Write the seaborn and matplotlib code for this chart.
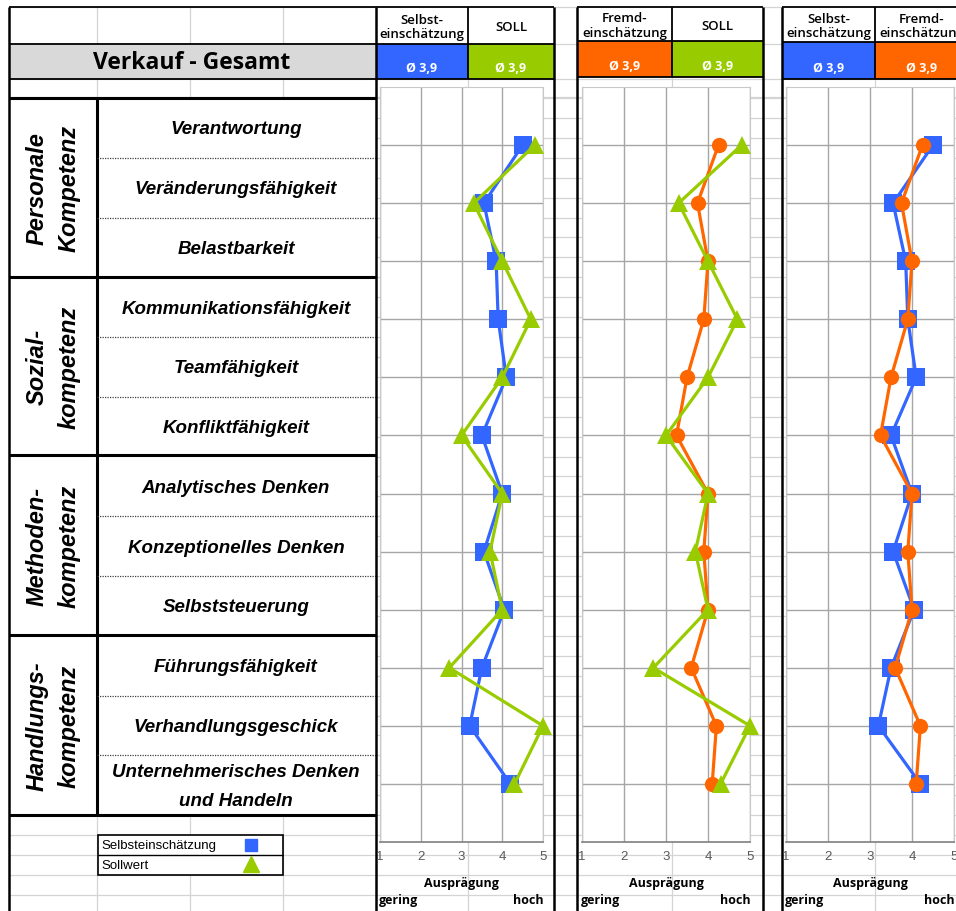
import numpy as np
import matplotlib
matplotlib.use("Agg")
import matplotlib.pyplot as plt
import seaborn as sns
from matplotlib.patches import Rectangle

# Daten
kategorien = ["Verantwortung", "Veränderungsfähigkeit", "Belastbarkeit",
              "Kommunikationsfähigkeit", "Teamfähigkeit", "Konfliktfähigkeit",
              "Analytisches Denken", "Konzeptionelles Denken", "Selbststeuerung",
              "Führungsfähigkeit", "Verhandlungsgeschick",
              "Unternehmerisches Denken\nund Handeln"]
gruppen = ["Personale\nKompetenz", "Sozial-\nkompetenz", "Methoden-\nkompetenz", "Handlungs-\nkompetenz"]
selbst = [4.5, 3.55, 3.85, 3.9, 4.1, 3.5, 4.0, 3.55, 4.05, 3.5, 3.2, 4.2]
fremd = [4.25, 3.75, 4.0, 3.9, 3.5, 3.25, 4.0, 3.9, 4.0, 3.6, 4.2, 4.1]
soll = [4.8, 3.3, 4.0, 4.7, 4.0, 3.0, 4.0, 3.7, 4.0, 2.7, 5.0, 4.3]
schnitt = {"Selbst": "Ø 3,9", "Fremd": "Ø 3,9", "SOLL": "Ø 3,9"}
x_ticks = [1, 2, 3, 4, 5]

BLAU = "#3366FF"
GRUEN = "#99CC00"
ORANGE = "#FF6600"
HELLGRAU = "#D4D4D4"

W, H = 956, 912
sns.set_style("white")
plt.rcParams["font.family"] = ["Open Sans", "DejaVu Sans"]
plt.rcParams["text.color"] = "black"
KURSIV = ["Liberation Sans", "DejaVu Sans"]

fig = plt.figure(figsize=(W / 100, H / 100), dpi=100)
bg = fig.add_axes([0, 0, 1, 1])
bg.set_xlim(0, W)
bg.set_ylim(H, 0)
bg.axis("off")


def linie(x0, y0, x1, y1, lw=1.0, c="black", ls="-", z=3):
    bg.plot([x0, x1], [y0, y1], color=c, lw=lw, ls=ls, solid_capstyle="butt", zorder=z)


def kasten(x0, y0, x1, y1, farbe, z=1):
    bg.add_patch(Rectangle((x0, y0), x1 - x0, y1 - y0, facecolor=farbe, edgecolor="none", zorder=z))


# Tabellenraster im Hintergrund
zeilen = [8, 45, 80, 98] + list(99 + 19.92 * np.arange(0, 41))
for y in zeilen:
    if y <= H:
        linie(9, y, W, y, lw=0.9, c=HELLGRAU, z=0)
for x in [97, 190, 283, 468, 672, 875]:
    linie(x, 8, x, H, lw=0.9, c=HELLGRAU, z=0)

# linke Tabelle
kasten(9, 45, 376, 80, "#D9D9D9")
kasten(10, 99, 376, 816, "white")
bg.text(192, 63, "Verkauf - Gesamt", ha="center", va="center", fontsize=16.5,
        fontweight="bold")

grenzen = [99, 278, 456, 636, 816]
for y in [8, 45, 80]:
    linie(9, y, 376, y, lw=1.3)
for y in grenzen:
    linie(9, y, 376, y, lw=2.2)
linie(9, 8, 9, H, lw=1.8)
linie(97, 99, 97, 816, lw=2.2)

zh = (816 - 99) / 12
for i, name in enumerate(kategorien):
    yc = 99 + (i + 0.5) * zh
    bg.text(236, yc + 1, name, ha="center", va="center", fontsize=13.5,
            fontweight="bold", fontstyle="italic", linespacing=1.9, family=KURSIV)
    if i % 3 != 2:
        linie(97, 99 + (i + 1) * zh, 376, 99 + (i + 1) * zh, lw=0.9, c="#404040", ls=(0, (1, 1)))

for g, name in enumerate(gruppen):
    yc = (grenzen[g] + grenzen[g + 1]) / 2
    bg.text(53, yc, name, ha="center", va="center", rotation=90, fontsize=17,
            fontweight="bold", fontstyle="italic", linespacing=1.5, family=KURSIV)

# Legende
kasten(98, 836, 283, 876, "white", z=2)
bg.add_patch(Rectangle((98, 836), 185, 40, facecolor="none", edgecolor="black", lw=1.2, zorder=3))
linie(98, 856, 283, 856, lw=1.0)
bg.text(101, 846, "Selbsteinschätzung", ha="left", va="center", fontsize=9.5, family="Liberation Sans")
bg.text(101, 866, "Sollwert", ha="left", va="center", fontsize=9.5, family="Liberation Sans")
bg.plot([251], [846], marker="s", ms=9, color=BLAU, zorder=4, ls="none")
bg.plot([251], [865], marker="^", ms=12, color=GRUEN, zorder=4, ls="none")

# Panels: Rahmen, Kopfzellen, Diagramme
panels = [
    dict(x0=376, xm=468, x1=554, y1=45, y2=80, ax=(380, 543),
         koepfe=[("Selbst-\neinschätzung", BLAU, schnitt["Selbst"]), ("SOLL", GRUEN, schnitt["SOLL"])],
         serien=[(selbst, BLAU, "s", 13), (soll, GRUEN, "^", 13)]),
    dict(x0=577, xm=672, x1=763, y1=42, y2=78, ax=(582, 750),
         koepfe=[("Fremd-\neinschätzung", ORANGE, schnitt["Fremd"]), ("SOLL", GRUEN, schnitt["SOLL"])],
         serien=[(fremd, ORANGE, "o", 11), (soll, GRUEN, "^", 13)]),
    dict(x0=782, xm=875, x1=968, y1=43, y2=80, ax=(786, 954),
         koepfe=[("Selbst-\neinschätzung", BLAU, schnitt["Selbst"]), ("Fremd-\neinschätzung", ORANGE, schnitt["Fremd"])],
         serien=[(selbst, BLAU, "s", 13), (fremd, ORANGE, "o", 11)]),
]

pos = np.arange(1, len(kategorien) + 1)
AX_TOP, AX_BOT = 88, 843

for p in panels:
    x0, xm, x1, y1, y2 = p["x0"], p["xm"], p["x1"], p["y1"], p["y2"]
    kasten(x0, 8, x1, y1, "white")
    for (txt, farbe, wert), (a, b) in zip(p["koepfe"], [(x0, xm), (xm, x1)]):
        kasten(a, y1, b, y2, farbe)
        bg.text((a + b) / 2, (8 + y1) / 2 + 1, txt, ha="center", va="center", fontsize=9.5,
                fontweight="semibold", linespacing=1.1)
        bg.text((a + b) / 2, y2 - 11, wert, ha="center", va="center", fontsize=9,
                fontweight="bold", color="white")
    for y in [8, y1, y2]:
        linie(x0, y, x1, y, lw=1.3)
    linie(xm, 8, xm, y2, lw=1.3)
    linie(x0, 8, x0, H, lw=1.8)
    linie(x1, 8, x1, H, lw=1.8)

    a0, a1 = p["ax"]
    ax = fig.add_axes([a0 / W, 1 - AX_BOT / H, (a1 - a0) / W, (AX_BOT - AX_TOP) / H])
    ax.set_facecolor("white")
    for werte, farbe, marker, ms in p["serien"]:
        sns.lineplot(x=werte, y=pos, sort=False, estimator=None, orient="y", ax=ax,
                     color=farbe, lw=2.3, marker=marker, markersize=ms,
                     markeredgewidth=0, clip_on=False, zorder=3)
    ax.set_xlim(1, 5)
    ax.set_ylim(13, 0)
    ax.set_xticks(x_ticks)
    ax.set_yticks(pos)
    ax.set_yticklabels([])
    ax.set_xlabel("")
    ax.set_ylabel("")
    ax.grid(True, color="#A6A6A6", lw=1.0)
    ax.set_axisbelow(True)
    for s in ["top", "left", "right"]:
        ax.spines[s].set_color("#C8C8C8")
        ax.spines[s].set_linewidth(0.8)
    ax.spines["bottom"].set_color("#7F7F7F")
    ax.spines["bottom"].set_linewidth(1.2)
    ax.tick_params(axis="x", direction="inout", length=6, width=1, colors="#7F7F7F",
                   labelcolor="#595959", labelsize=9.5, pad=3)
    ax.tick_params(axis="y", length=0)
    for lab in ax.get_xticklabels():
        lab.set_family("Liberation Sans")

    bg.text((a0 + a1) / 2, 884, "Ausprägung", ha="center", va="center", fontsize=9,
            fontweight="bold")
    bg.text(a0 - 1, 901, "gering", ha="left", va="center", fontsize=9, fontweight="bold")
    bg.text(a1 + 1, 901, "hoch", ha="right", va="center", fontsize=9, fontweight="bold")

fig.savefig("out.png", dpi=100)
